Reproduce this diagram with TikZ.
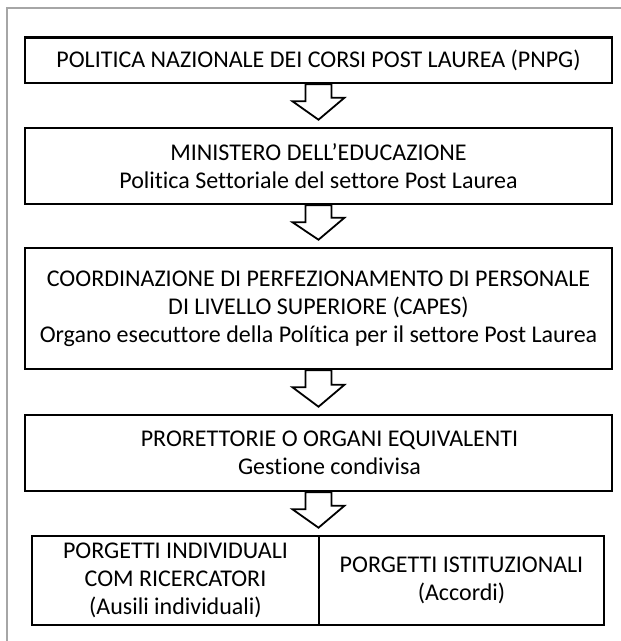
\documentclass[tikz,border=0pt]{standalone}
\usepackage{fontspec}
\setmainfont{Carlito}[Ligatures=NoCommon]

\tikzset{
    box/.style={draw, line width=2.6pt, align=center, inner sep=0pt,
        font=\fontsize{24}{28}\selectfont},
    hollow/.style={draw, line width=1.8pt, line join=miter, fill=white},
}

\begin{document}
\begin{tikzpicture}[x=1pt, y=-1pt]
    \useasboundingbox (0,0) rectangle (621,641);

    % Frame
    \draw[gray!70, line width=1.2pt] (621,8) -- (7,8) -- (7,641);

    % Boxes
    \node[box, minimum width=587, minimum height=45.5] (pnpg) at (318.5,60.25)
        {POLITICA NAZIONALE DEI CORSI POST LAUREA (PNPG)};
    \node[box, minimum width=587, minimum height=76] (mec) at (318.5,166)
        {MINISTERO DELL’EDUCAZIONE\\Politica Settoriale del settore Post Laurea};
    \node[box, minimum width=587, minimum height=121] (capes) at (318.5,308.5)
        {COORDINAZIONE DI PERFEZIONAMENTO DI PERSONALE\\
         DI LIVELLO SUPERIORE (CAPES)\\
         Organo esecuttore della Política per il settore Post Laurea};
    \node[box, minimum width=587, minimum height=76] (pro) at (318.5,453)
        {\hspace*{22pt}PRORETTORIE O ORGANI EQUIVALENTI\\\hspace*{22pt}Gestione condivisa};

    % Projects
    \node[box, minimum width=287, minimum height=89] (indiv) at (175.5,580.5)
        {PORGETTI INDIVIDUALI\\COM RICERCATORI\\(Ausili individuali)};
    \node[box, minimum width=285, minimum height=89] (istit) at (461.5,580.5)
        {PORGETTI ISTITUZIONALI\\(Accordi)};

    % Block arrows
    \foreach \a/\b in {pnpg/mec, mec/capes, capes/pro, pro/indiv} {
        \draw[hollow] ([xshift=-13pt]\a.south) -- ++(0,17) -- ++(-13,0)
            -- ([yshift=7pt]\a.south |- \b.north) -- ++(26,-22) -- ++(-13,0)
            -- ([xshift=13pt]\a.south) -- cycle;
    }
\end{tikzpicture}
\end{document}
